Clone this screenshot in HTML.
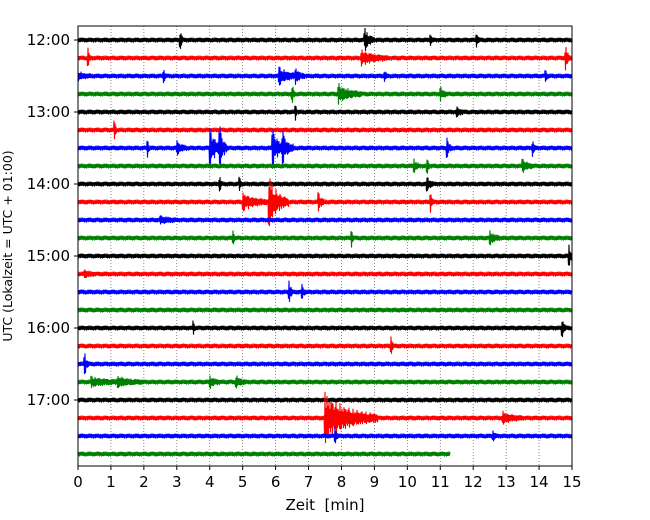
<!DOCTYPE html>
<html><head><meta charset="utf-8"><style>
body{margin:0;background:#fff;}
svg{display:block;font-family:"DejaVu Sans","Liberation Sans",sans-serif;}
</style></head><body>
<svg id="chart" width="650" height="520">
</svg>
<script>
// data
const traceLabels = ["12:00","13:00","14:00","15:00","16:00","17:00"];
const traceColors = ["black","red","blue","green"];
const xTicks = [0,1,2,3,4,5,6,7,8,9,10,11,12,13,14,15];
const traceCount = 24;
const lastTraceEnd = 11.3;
const baseNoise = 2.6;
// events: trace index, onset minute, amplitude (px), duration (min)
const evTrace = [0,0,0,0, 1,1,1, 2,2,2,2,2,2, 3,3,3, 4,4, 5, 6,6,6,6,6,6,6,6, 7,7,7, 8,8,8, 9,9,9,9, 10, 11,11,11, 12, 13, 14,14, 16,16, 17, 18, 19,19,19,19, 21,21, 22,22];
const evTime  = [3.1,8.7,12.1,10.7, 0.3,8.6,14.8, 0,2.6,6.1,6.6,9.3,14.2, 7.9,6.5,11.0, 6.6,11.5, 1.1, 2.1,3.0,4.0,4.3,5.9,6.2,11.2,13.8, 10.2,10.6,13.5, 4.3,4.9,10.6, 5.8,5.0,7.3,10.7, 2.5, 4.7,8.3,12.5, 14.9, 0.2, 6.4,6.8, 3.5,14.7, 9.5, 0.2, 0.4,1.2,4.0,4.8, 7.5,12.9, 7.8,12.6];
const evAmp   = [9,11,5,4, 9,7,11, 3,6,8,6,4,4, 9,10,6, 8,4, 9, 10,6,19,19,19,15,9,7, 6,8,6, 7,6,6, 24,8,8,9, 3, 7,8,6, 11, 3, 11,6, 6,8, 9, 11, 4,4,5,5, 24,5, 8,4];
const evDur   = [0.1,0.3,0.1,0.1, 0.08,0.8,0.15, 0.4,0.08,0.6,0.3,0.1,0.1, 0.7,0.08,0.2, 0.06,0.2, 0.08, 0.08,0.3,0.4,0.25,0.4,0.35,0.15,0.1, 0.15,0.08,0.3, 0.08,0.08,0.2, 0.6,0.8,0.2,0.1, 0.5, 0.08,0.08,0.3, 0.12, 0.3, 0.12,0.12, 0.06,0.12, 0.08, 0.12, 1.0,0.8,0.3,0.3, 1.6,0.6, 0.1,0.12];

const NS="http://www.w3.org/2000/svg";
const svg=document.getElementById('chart');
const L=78,R=572,T=26,B=466;
const x=m=>L+(R-L)*m/15;
const y=i=>40+i*18;
function mk(tag,attrs,parent){const e=document.createElementNS(NS,tag);for(const k in attrs)e.setAttribute(k,attrs[k]);(parent||svg).appendChild(e);return e;}

xTicks.forEach(t=>{
  if(t>0&&t<15){const g=mk('line',{x1:x(t),x2:x(t),y1:T,y2:B,stroke:'#555','stroke-width':0.7,'stroke-dasharray':'1,2'});
  
  }
  const tk=mk('line',{x1:x(t),x2:x(t),y1:B,y2:B+4,stroke:'#000','stroke-width':1});
  
  
  const tl=mk('text',{x:x(t),y:B+21,'text-anchor':'middle','font-size':15});
  tl.textContent=t;
  
  
});
traceLabels.forEach((lab,h)=>{
  const yy=y(h*4);
  const tk=mk('line',{x1:L-4,x2:L,y1:yy,y2:yy,stroke:'#000','stroke-width':1});
  
  
  const tl=mk('text',{x:L-8,y:yy+5,'text-anchor':'end','font-size':15});
  tl.textContent=lab;
  
  
});

for(let i=0;i<traceCount;i++){
  const end=(i===traceCount-1)?lastTraceEnd:15;
  let pts=[];let k=0;
  for(let px=x(0);px<=x(end);px+=0.5,k++){
    const t=(px-L)/(R-L)*15;
    let a=baseNoise*(0.6+0.4*Math.abs(Math.sin(k*1.37)*Math.cos(k*0.71+i)));
    for(let e=0;e<evTrace.length;e++){
      if(evTrace[e]!==i)continue;
      const dt=t-evTime[e];
      if(dt>=-0.02&&dt<evDur[e]){
        const env=Math.exp(-2.2*Math.max(dt,0)/evDur[e]);
        const mod=Math.abs(Math.sin(k*2.3+e)*Math.sin(k*0.37+e*1.7));
        const peak=(dt>=0&&dt<0.03)?1:(0.35+0.65*mod);
        a+=evAmp[e]*env*peak;
      }
    }
    const s=(k%2?1:-1);
    pts.push(px.toFixed(1)+','+(y(i)+s*a).toFixed(1));
  }
  const p=mk('polyline',{points:pts.join(' '),fill:'none',stroke:traceColors[i%4],'stroke-width':1.1});
  
  
}

const fr=mk('rect',{x:L,y:T,width:R-L,height:B-T,fill:'none',stroke:'#000','stroke-width':1});


const xl=mk('text',{x:(L+R)/2,y:510,'text-anchor':'middle','font-size':15});
xl.textContent='Zeit\u00a0\u00a0[min]';


const yl=mk('text',{x:0,y:0,'text-anchor':'middle','font-size':12.5,transform:'translate(12,246) rotate(-90)'});
yl.textContent='UTC (Lokalzeit = UTC + 01:00)';


</script>
</body></html>
